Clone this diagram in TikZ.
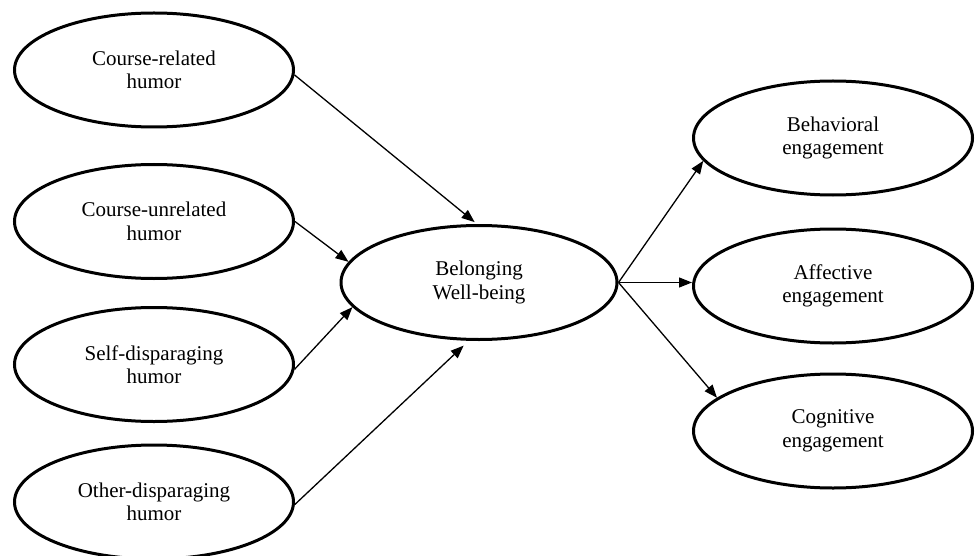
\documentclass[tikz,border=0pt]{standalone}
\usepackage{fontspec}
\setmainfont{Liberation Serif}
\usetikzlibrary{shapes.geometric,arrows.meta}
\begin{document}
\begin{tikzpicture}[x=1pt,y=-1pt,
  oval/.style={draw, ellipse, line width=3pt, minimum width=279pt, minimum height=114pt,
    inner sep=0pt, align=center, font=\fontsize{21}{23.5}\selectfont},
  arr/.style={line width=1.3pt, -{Triangle[length=13pt,width=10pt]}}]
\useasboundingbox (0,0) rectangle (976,556);
\node[oval] (cr) at (154,70) {Course-related\\humor};
\node[oval] (cu) at (154,221.5) {Course-unrelated\\humor};
\node[oval] (sd) at (154,364.5) {Self-disparaging\\humor};
\node[oval] (od) at (154,502) {Other-disparaging\\humor};
\node[oval, minimum width=276pt] (bw) at (479,282.5) {Belonging\\Well-being};
\node[oval] (be) at (833,138) {Behavioral\\engagement};
\node[oval] (af) at (833,286) {Affective\\engagement};
\node[oval] (cg) at (833,431) {Cognitive\\engagement};
\coordinate (src) at (bw.east);
\draw[arr, shorten >=3pt] (cr.-2) -- (bw.92);
\draw[arr] (cu.east) -- (bw.171);
\draw[arr] (sd.-2) -- (bw.191);
\draw[arr, shorten >=7pt] (od.-1) -- (bw.260);
\draw[arr] (src) -- (be.190);
\draw[arr] (src) -- (src -| af.west);
\draw[arr] (src) -- (cg.164);
\end{tikzpicture}
\end{document}
